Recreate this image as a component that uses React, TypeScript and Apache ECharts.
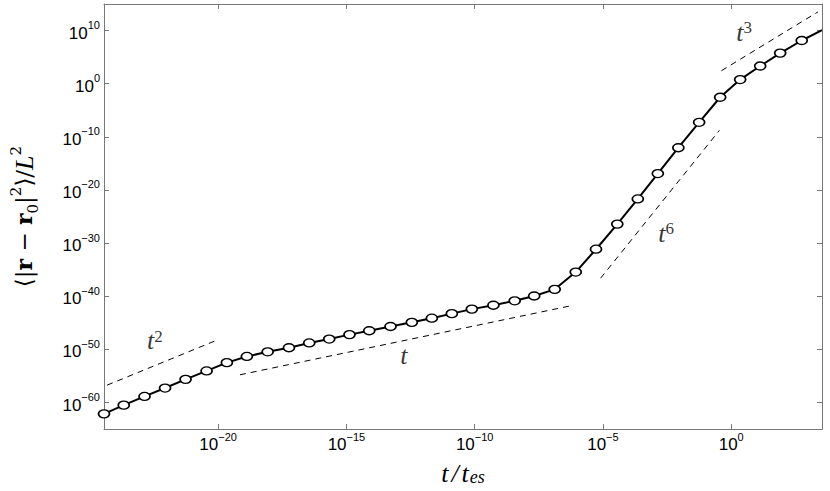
import React, { useEffect, useRef } from "react";
import * as echarts from "echarts";

// log10(t / t_es) of the plotted (marked) samples
const tLog10 = [
  -24.45, -23.68, -22.87, -22.07, -21.27, -20.45, -19.66, -18.88, -18.07, -17.24,
  -16.45, -15.67, -14.88, -14.11, -13.28, -12.45, -11.67, -10.89, -10.11, -9.27,
  -8.44, -7.68, -6.88, -6.06, -5.27, -4.44, -3.64, -2.86, -2.06, -1.25,
  -0.43, 0.35, 1.13, 1.91, 2.75,
];
// log10(<|r - r0|^2> / L^2)
const msdLog10 = [
  -62.13, -60.49, -58.85, -57.27, -55.64, -54.05, -52.49, -51.33, -50.45, -49.69,
  -48.78, -48.05, -47.22, -46.49, -45.69, -44.91, -44.13, -43.27, -42.42, -41.69,
  -40.85, -39.95, -38.7, -35.45, -31.15, -26.42, -21.69, -16.91, -12.05, -7.27,
  -2.55, 0.78, 3.33, 5.76, 8.13,
];
// curve continues past the last marker to the frame edge
const tailT = [3.54];
const tailMsd = [10.1];

// dashed power-law guides: [log t, log msd] endpoints
const guideT2 = [[-24.33, -56.73], [-20.13, -48.42]];
const guideT1 = [[-19.15, -54.78], [-6.15, -41.69]];
const guideT6 = [[-5.09, -36.6], [-0.46, -8.78]];
const guideT3 = [[-0.38, 2.45], [3.38, 13.51]];

const guideLabels = ["2", "", "6", "3"];
const guideLabelPos = [[-22.47, -48.36], [-12.76, -51.09], [-2.54, -28.18], [0.5, 9.64]];

const xRange = [-24.45, 3.54];
const yRange = [-65, 15];
const xTickValues = [-20, -15, -10, -5, 0];
const xTickLabels = ["\u221220", "\u221215", "\u221210", "\u22125", "0"];
const yTickValues = [-60, -50, -40, -30, -20, -10, 0, 10];
const yTickLabels = ["\u221260", "\u221250", "\u221240", "\u221230", "\u221220", "\u221210", "0", "10"];

const SANS = "'Liberation Sans', Arial, sans-serif";
const SERIF = "'Liberation Serif', 'Times New Roman', serif";
const DJSERIF = "'DejaVu Serif', serif";

const tickRich = {
  b: { fontSize: 17, fontFamily: SANS, color: "#000", lineHeight: 22, verticalAlign: "bottom" },
  s: { fontSize: 11, fontFamily: SANS, color: "#000", lineHeight: 10, verticalAlign: "top" },
};

const axisColor = "#777";

export default function App() {
  const ref = useRef<HTMLDivElement>(null);
  useEffect(() => {
    if (!ref.current) return;
    const chart = echarts.init(ref.current, undefined, { renderer: "svg" });

    const mainData: any[] = tLog10.map((x, i) => [x, msdLog10[i]]);
    tailT.forEach((x, i) => mainData.push({ value: [x, tailMsd[i]], symbol: "none" }));

    const dashed = (d: number[][]) => ({
      type: "line",
      data: d,
      symbol: "none",
      silent: true,
      lineStyle: { color: "#000", width: 1, type: [6, 5] },
      z: 1,
    });

    const labelData = guideLabelPos.map((p, i) => ({
      value: p,
      label: {
        show: true,
        position: "inside",
        formatter: guideLabels[i] ? `{t|t}{s|${guideLabels[i]}}` : "{t|t}",
      },
    }));

    const xBase = {
      type: "value",
      min: xRange[0],
      max: xRange[1],
      splitLine: { show: false },
      axisLine: { show: true, onZero: false, lineStyle: { color: axisColor, width: 1 } },
      axisTick: { show: true, inside: true, length: 5, customValues: xTickValues, lineStyle: { color: axisColor } },
    };
    const yBase = {
      type: "value",
      min: yRange[0],
      max: yRange[1],
      splitLine: { show: false },
      axisLine: { show: true, onZero: false, lineStyle: { color: axisColor, width: 1 } },
      axisTick: { show: true, inside: true, length: 5, customValues: yTickValues, lineStyle: { color: axisColor } },
    };

    chart.setOption({
      animation: false,
      backgroundColor: "#fff",
      grid: { left: 104, top: 4, width: 718, height: 439.5, containLabel: false },
      xAxis: [
        {
          ...xBase,
          position: "bottom",
          axisLabel: {
            customValues: xTickValues,
            margin: 2,
            formatter: (v: number) => `{b|10}{s|${xTickLabels[xTickValues.indexOf(v)]}}`,
            rich: tickRich,
          },
          name: "{i|t}{n|/}{i|t}{sub|es}",
          nameLocation: "middle",
          nameGap: 20,
          nameTextStyle: {
            verticalAlign: "top",
            rich: {
              i: { fontFamily: SERIF, fontStyle: "italic", fontSize: 26, color: "#000", lineHeight: 26, verticalAlign: "top" },
              n: { fontFamily: SERIF, fontStyle: "italic", fontSize: 26, color: "#000", lineHeight: 26, verticalAlign: "top", padding: [0, 3, 0, 3] },
              sub: { fontFamily: SERIF, fontStyle: "italic", fontSize: 18, color: "#000", lineHeight: 22, verticalAlign: "bottom", padding: [10, 0, 0, 1] },
            },
          },
        },
        { ...xBase, position: "top", axisLabel: { show: false } },
      ],
      yAxis: [
        {
          ...yBase,
          position: "left",
          axisLabel: {
            customValues: yTickValues,
            margin: 4,
            formatter: (v: number) => `{b|10}{s|${yTickLabels[yTickValues.indexOf(v)]}}`,
            rich: tickRich,
          },
          name: "{n|\u27E8|}{b|r}{n| \u2212 }{b|r}{sub|0}{n||}{sup|2}{n|\u27E9/}{i|L}{sup|2}",
          nameLocation: "middle",
          nameGap: 64,
          nameTextStyle: {
            rich: {
              n: { fontFamily: DJSERIF, fontSize: 23, color: "#000", lineHeight: 32, verticalAlign: "middle" },
              b: { fontFamily: DJSERIF, fontWeight: "bold", fontSize: 22, color: "#000", lineHeight: 32, verticalAlign: "middle" },
              i: { fontFamily: SERIF, fontStyle: "italic", fontSize: 26, color: "#000", lineHeight: 32, verticalAlign: "middle" },
              sub: { fontFamily: DJSERIF, fontSize: 15, color: "#000", lineHeight: 14, verticalAlign: "bottom" },
              sup: { fontFamily: DJSERIF, fontSize: 15, color: "#000", lineHeight: 14, verticalAlign: "top" },
            },
          },
        },
        { ...yBase, position: "right", axisLabel: { show: false } },
      ],
      series: [
        dashed(guideT2),
        dashed(guideT1),
        dashed(guideT6),
        dashed(guideT3),
        {
          type: "line",
          data: mainData,
          showAllSymbol: true,
          symbol: "path://M0,5a5,5 0 1,0 10,0a5,5 0 1,0 -10,0z",
          symbolSize: [11, 8],
          symbolKeepAspect: false,
          lineStyle: { color: "#000", width: 2 },
          itemStyle: { color: "#fff", borderColor: "#000", borderWidth: 1.5 },
          z: 3,
        },
        {
          type: "scatter",
          data: labelData,
          symbolSize: 1,
          itemStyle: { color: "rgba(0,0,0,0)" },
          silent: true,
          label: {
            rich: {
              t: { fontFamily: SERIF, fontStyle: "italic", fontSize: 26, color: "#000", lineHeight: 26, verticalAlign: "bottom" },
              s: { fontFamily: SERIF, fontSize: 17, color: "#000", lineHeight: 14, verticalAlign: "top" },
            },
          },
          z: 4,
        },
      ],
    });
    return () => chart.dispose();
  }, []);
  return <div ref={ref} style={{ position: "absolute", left: 0, top: 0, width: 830, height: 491 }} />;
}
